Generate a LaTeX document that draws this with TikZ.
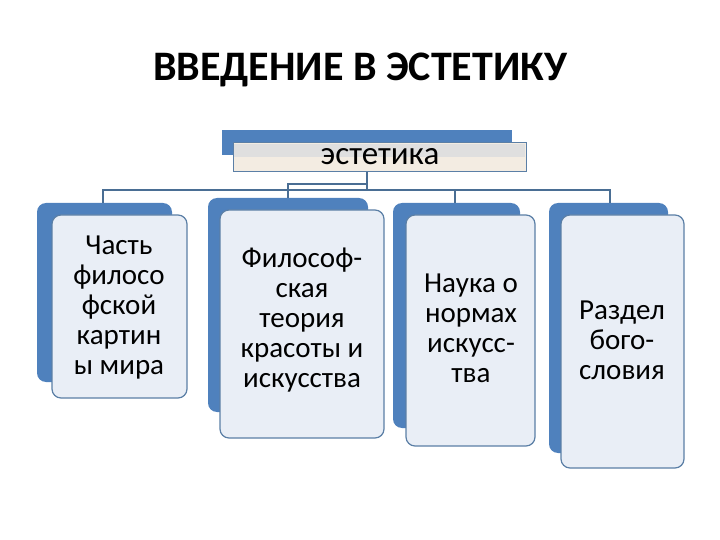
\documentclass[tikz,border=0pt]{standalone}
\usepackage{fontspec}
\setmainfont{Carlito}
\definecolor{bk}{HTML}{4F81BD}
\definecolor{ol}{HTML}{5B7FA6}
\definecolor{inn}{HTML}{E9EEF6}
\definecolor{ln}{HTML}{4A6E94}
\begin{document}
\begin{tikzpicture}[x=1pt,y=-1pt,
 back/.style={fill=bk,rounded corners=9pt},
 front/.style={draw=ol,line width=1.2pt,fill=inn,rounded corners=9pt},
 txt/.style={align=center,font=\fontsize{29}{30}\selectfont},
 con/.style={draw=ln,line width=1.3pt}]
\useasboundingbox (0,0) rectangle (720,540);
\node[font=\bfseries\fontsize{42}{46}\selectfont] (title) at (360,70) {ВВЕДЕНИЕ В ЭСТЕТИКУ};
% top
\fill[bk] (222,130) rectangle (512,155);
\draw[ol,line width=1pt,fill={rgb,255:red,243;green,236;blue,226}] (233,143) rectangle (526,172);
\fill[gray!25] (234,144) rectangle (525,157);
\node[font=\fontsize{33}{36}\selectfont] (top) at (380,157) {эстетика};
\coordinate (tb) at (367,172);
% boxes
\fill[back] (37,203) rectangle (172,382);
\draw[front] (52,215) rectangle (187,398);
\node[txt] (b1) at (119,308) {Часть\\филосо\\фской\\картин\\ы мира};
\fill[back] (208,198) rectangle (368,412);
\draw[front] (220,210) rectangle (384,438);
\node[txt] (b2) at (302,320) {Философ-\\ская\\теория\\красоты и\\искусства};
\fill[back] (393,203) rectangle (520,428);
\draw[front] (406,215) rectangle (535,446);
\node[txt] (b3) at (471,328) {Наука о\\нормах\\искусс-\\тва};
\fill[back] (549,203) rectangle (668,453);
\draw[front] (561,215) rectangle (684,468);
\node[txt] (b4) at (622,340) {Раздел\\бого-\\словия};
\coordinate (t1) at (103,203);
\coordinate (t2) at (288,198);
\coordinate (t3) at (455,203);
\coordinate (t4) at (610,203);
\draw[con] (tb) -- (367,190);
\draw[con] (367,184) -| (t2);
\draw[con] (t1) |- (367,190) -| (t4);
\draw[con] (t3) -- (455,190);
\end{tikzpicture}
\end{document}
